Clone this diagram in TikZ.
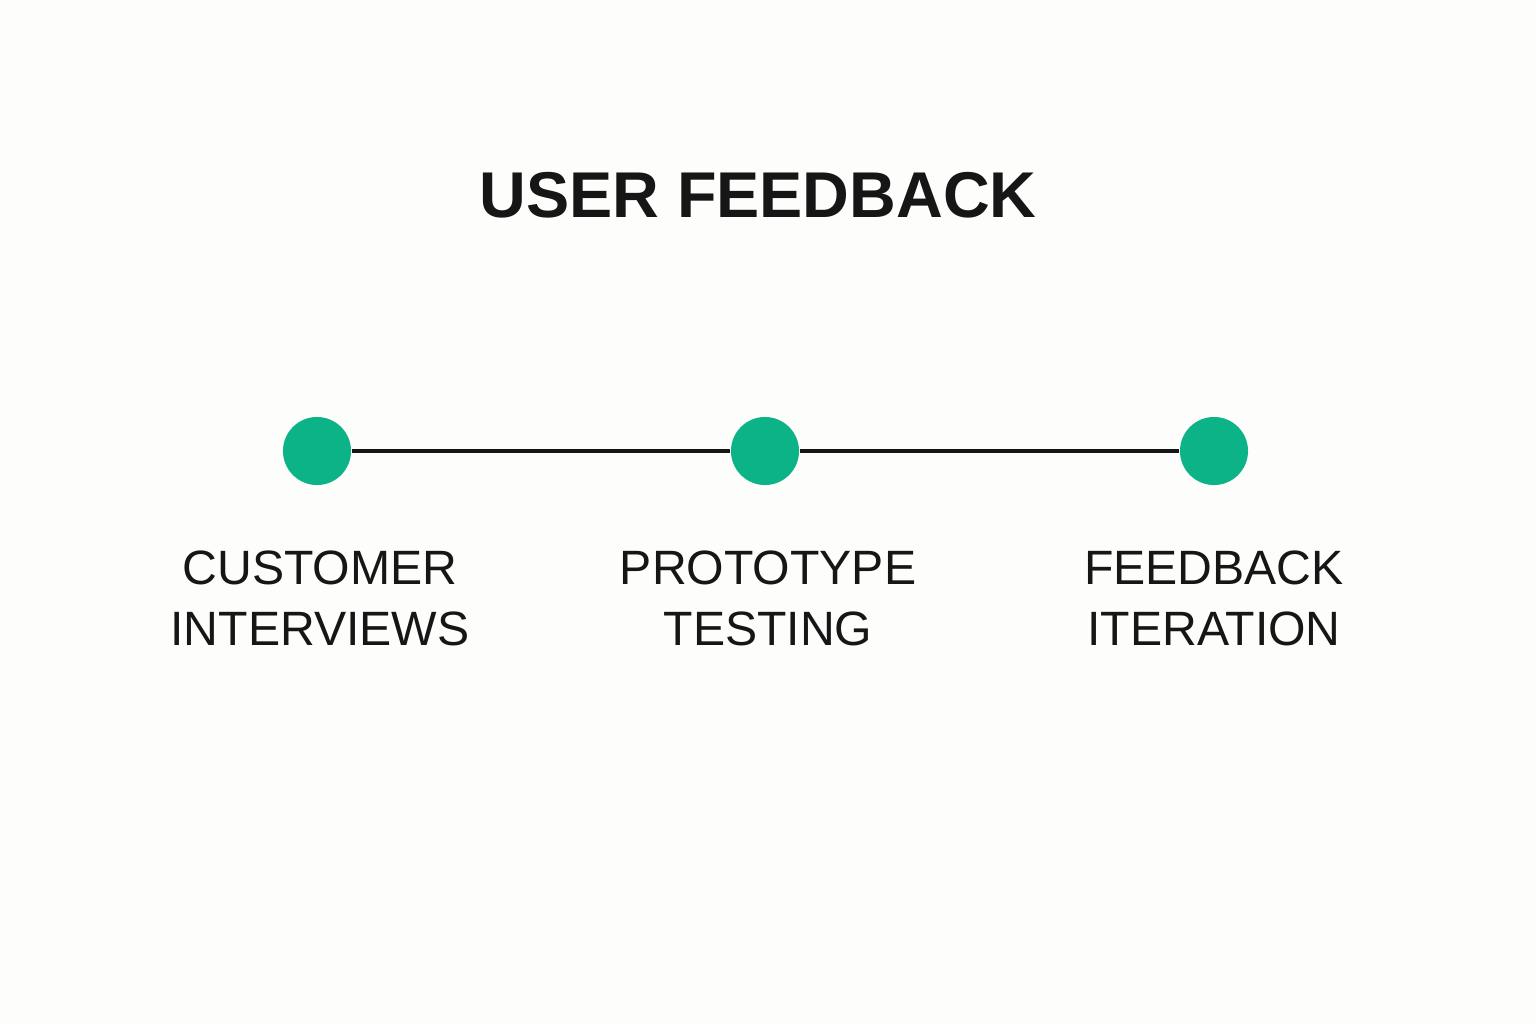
\documentclass[tikz,border=0pt]{standalone}
\usepackage{fontspec}
\setmainfont{Liberation Sans}
\definecolor{bgc}{HTML}{FDFDFB}
\definecolor{dotc}{HTML}{0BB386}
\definecolor{inkc}{HTML}{161616}
\begin{document}
\begin{tikzpicture}[x=0.01cm,y=-0.01cm,
  dot/.style={circle,fill=dotc,minimum size=0.68cm,inner sep=0pt},
  lbl/.style={align=center,text=inkc,font=\fontsize{13.7pt}{17.36pt}\selectfont,inner sep=0pt},
  conn/.style={draw=inkc,line width=1.3pt}]
\fill[bgc] (0,0) rectangle (1536,1024);
\useasboundingbox (0,0) rectangle (1536,1024);
\node[text=inkc,font=\bfseries\fontsize{18.4pt}{24pt}\selectfont,inner sep=0pt] (title) at (758,195) {USER FEEDBACK};
\node[dot] (a) at (317,451) {};
\node[dot] (b) at (765,451) {};
\node[dot] (c) at (1214,451) {};
\draw[conn] (a) -- (b);
\draw[conn] (b) -- (c);
\node[lbl] (la) at (320,598) {CUSTOMER\\INTERVIEWS};
\node[lbl] (lb) at (768,598) {PROTOTYPE\\TESTING};
\node[lbl] (lc) at (1214,598) {FEEDBACK\\ITERATION};
\end{tikzpicture}
\end{document}
